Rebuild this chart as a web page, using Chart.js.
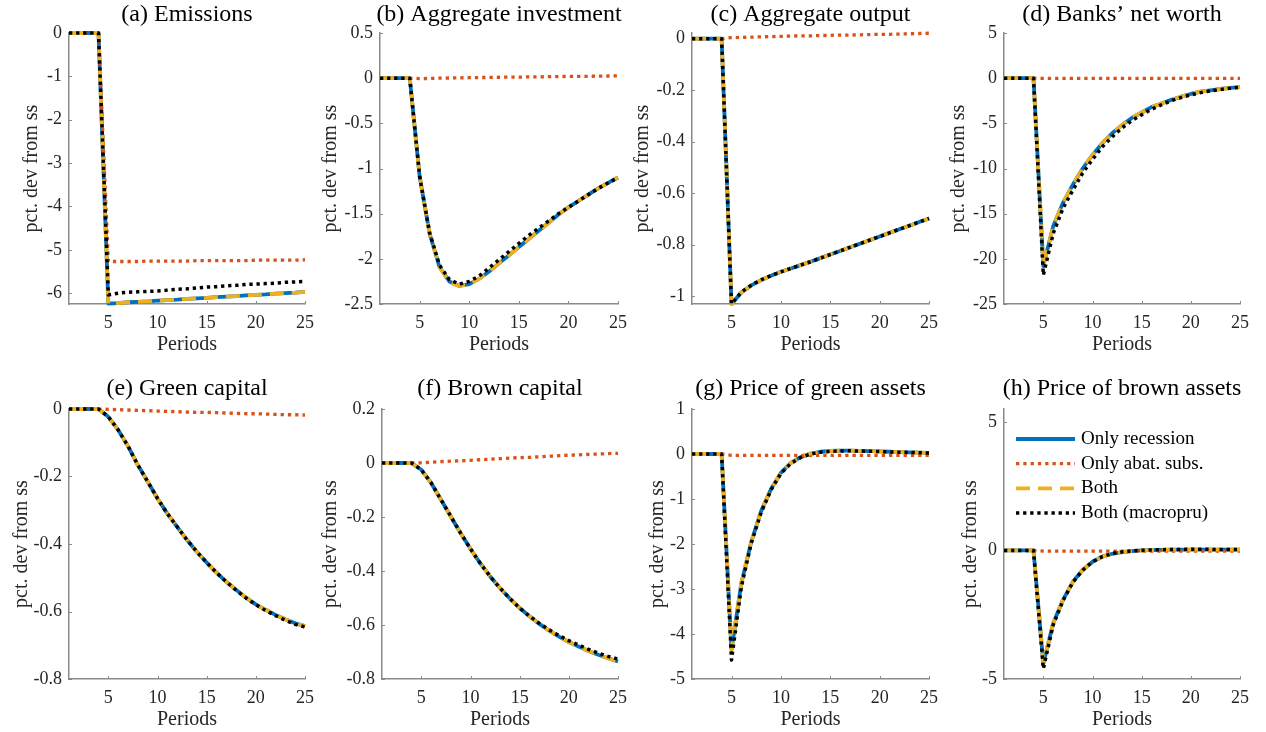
<!DOCTYPE html>
<html>
<head>
<meta charset="utf-8">
<script src="https://cdn.jsdelivr.net/npm/chart.js@4/dist/chart.umd.min.js"></script>
<style>
  body { margin: 0; background: #fff; width: 1266px; height: 732px; overflow: hidden; position: relative; }
  canvas { position: absolute; }
</style>
</head>
<body>
<script>
// ---- data: impulse responses, pct. dev from steady state, periods 1..25 ----
var periods = [1,2,3,4,5,6,7,8,9,10,11,12,13,14,15,16,17,18,19,20,21,22,23,24,25];
var xTicks = [5, 10, 15, 20, 25];
var seriesNames = ['Only recession', 'Only abat. subs.', 'Both', 'Both (macropru)'];

// (a) Emissions
var emisRec   = [0,0,0,0,-6.24,-6.23,-6.21,-6.2,-6.19,-6.17,-6.16,-6.15,-6.13,-6.12,-6.11,-6.09,-6.08,-6.07,-6.05,-6.04,-6.03,-6.01,-6.0,-5.99,-5.97];
var emisSub   = [0,0,0,0,-5.27,-5.27,-5.27,-5.27,-5.26,-5.26,-5.26,-5.26,-5.26,-5.25,-5.25,-5.25,-5.25,-5.25,-5.25,-5.24,-5.24,-5.24,-5.24,-5.24,-5.23];
var emisBoth  = [0,0,0,0,-6.24,-6.23,-6.21,-6.2,-6.19,-6.17,-6.16,-6.15,-6.13,-6.12,-6.11,-6.09,-6.08,-6.07,-6.05,-6.04,-6.03,-6.01,-6.0,-5.99,-5.97];
var emisMacro = [0,0,0,0,-6.04,-6.0,-5.98,-5.97,-5.96,-5.95,-5.93,-5.91,-5.9,-5.88,-5.86,-5.85,-5.83,-5.82,-5.8,-5.79,-5.78,-5.77,-5.75,-5.74,-5.73];
var emisTicks = [-6, -5, -4, -3, -2, -1, 0];

// (b) Aggregate investment
var invRec   = [0,0,0,0,-1.09,-1.72,-2.09,-2.25,-2.3,-2.28,-2.22,-2.14,-2.05,-1.96,-1.87,-1.78,-1.69,-1.6,-1.51,-1.43,-1.36,-1.29,-1.22,-1.16,-1.1];
var invSub   = [0,0,0,0,-0.005,-0.003,0,0.002,0.004,0.005,0.007,0.008,0.01,0.011,0.012,0.014,0.015,0.016,0.018,0.019,0.02,0.021,0.022,0.024,0.025];
var invBoth  = [0,0,0,0,-1.09,-1.72,-2.09,-2.26,-2.3,-2.28,-2.22,-2.14,-2.05,-1.96,-1.87,-1.78,-1.69,-1.6,-1.51,-1.43,-1.36,-1.29,-1.22,-1.16,-1.1];
var invMacro = [0,0,0,0,-1.09,-1.71,-2.07,-2.23,-2.28,-2.25,-2.19,-2.1,-2.01,-1.92,-1.83,-1.74,-1.66,-1.58,-1.5,-1.43,-1.36,-1.29,-1.22,-1.16,-1.1];
var invTicks = [-2.5, -2, -1.5, -1, -0.5, 0, 0.5];

// (c) Aggregate output
var outRec   = [0,0,0,0,-1.03,-0.985,-0.958,-0.937,-0.92,-0.905,-0.892,-0.879,-0.866,-0.852,-0.838,-0.824,-0.81,-0.796,-0.782,-0.768,-0.754,-0.74,-0.726,-0.712,-0.698];
var outSub   = [0,0,0,0,0.004,0.005,0.006,0.007,0.008,0.009,0.01,0.011,0.011,0.012,0.013,0.014,0.014,0.015,0.016,0.017,0.017,0.018,0.019,0.02,0.021];
var outBoth  = [0,0,0,0,-1.03,-0.985,-0.958,-0.937,-0.92,-0.905,-0.892,-0.879,-0.866,-0.852,-0.838,-0.824,-0.81,-0.796,-0.782,-0.768,-0.754,-0.74,-0.726,-0.712,-0.698];
var outMacro = [0,0,0,0,-1.03,-0.984,-0.957,-0.936,-0.92,-0.905,-0.892,-0.879,-0.866,-0.852,-0.838,-0.824,-0.81,-0.796,-0.782,-0.768,-0.754,-0.74,-0.726,-0.712,-0.698];
var outTicks = [-1, -0.8, -0.6, -0.4, -0.2, 0];

// (d) Banks' net worth
var nwRec   = [0,0,0,0,-20.8,-16.4,-13.8,-11.8,-10.0,-8.5,-7.2,-6.1,-5.2,-4.4,-3.8,-3.2,-2.8,-2.4,-2.05,-1.75,-1.5,-1.35,-1.2,-1.08,-1.0];
var nwSub   = [0,0,0,0,-0.02,-0.02,-0.02,-0.02,-0.02,-0.02,-0.02,-0.02,-0.02,-0.02,-0.02,-0.02,-0.02,-0.02,-0.02,-0.02,-0.02,-0.02,-0.02,-0.02,-0.02];
var nwBoth  = [0,0,0,0,-20.8,-16.4,-13.8,-11.8,-10.0,-8.5,-7.2,-6.1,-5.2,-4.4,-3.8,-3.2,-2.8,-2.4,-2.05,-1.75,-1.5,-1.35,-1.2,-1.08,-1.0];
var nwMacro = [0,0,0,0,-21.8,-17.2,-14.4,-12.4,-10.5,-9.0,-7.6,-6.5,-5.5,-4.7,-4.05,-3.45,-2.95,-2.5,-2.15,-1.85,-1.6,-1.4,-1.25,-1.12,-1.02];
var nwTicks = [-25, -20, -15, -10, -5, 0, 5];

// (e) Green capital
var gkRec   = [0,0,0,0,-0.023,-0.062,-0.11,-0.166,-0.215,-0.265,-0.31,-0.349,-0.388,-0.423,-0.455,-0.485,-0.512,-0.536,-0.559,-0.579,-0.595,-0.61,-0.623,-0.635,-0.643];
var gkSub   = [0,0,0,0,-0.001,-0.002,-0.003,-0.004,-0.005,-0.006,-0.007,-0.008,-0.009,-0.01,-0.01,-0.011,-0.012,-0.013,-0.014,-0.014,-0.015,-0.016,-0.017,-0.017,-0.018];
var gkBoth  = [0,0,0,0,-0.023,-0.062,-0.11,-0.166,-0.215,-0.265,-0.31,-0.349,-0.388,-0.423,-0.455,-0.485,-0.512,-0.536,-0.559,-0.579,-0.595,-0.61,-0.623,-0.635,-0.643];
var gkMacro = [0,0,0,0,-0.023,-0.062,-0.11,-0.166,-0.215,-0.265,-0.31,-0.349,-0.388,-0.423,-0.455,-0.485,-0.512,-0.537,-0.56,-0.58,-0.597,-0.612,-0.626,-0.638,-0.646];
var gkTicks = [-0.8, -0.6, -0.4, -0.2, 0];

// (f) Brown capital
var bkRec   = [0,0,0,0,-0.025,-0.074,-0.136,-0.198,-0.26,-0.318,-0.372,-0.42,-0.463,-0.502,-0.537,-0.568,-0.596,-0.621,-0.643,-0.663,-0.68,-0.696,-0.71,-0.723,-0.735];
var bkSub   = [0,0,0,0,0.001,0.003,0.005,0.007,0.008,0.01,0.012,0.014,0.016,0.018,0.02,0.021,0.023,0.025,0.027,0.029,0.03,0.032,0.033,0.035,0.036];
var bkBoth  = [0,0,0,0,-0.025,-0.074,-0.136,-0.198,-0.26,-0.318,-0.372,-0.42,-0.463,-0.502,-0.537,-0.568,-0.596,-0.621,-0.643,-0.663,-0.68,-0.696,-0.71,-0.723,-0.735];
var bkMacro = [0,0,0,0,-0.025,-0.074,-0.136,-0.198,-0.26,-0.318,-0.372,-0.42,-0.463,-0.502,-0.537,-0.567,-0.594,-0.618,-0.639,-0.658,-0.674,-0.69,-0.704,-0.716,-0.726];
var bkTicks = [-0.8, -0.6, -0.4, -0.2, 0, 0.2];

// (g) Price of green assets
var pgRec   = [0,0,0,0,-4.35,-2.87,-1.95,-1.27,-0.78,-0.42,-0.2,-0.07,0.01,0.05,0.067,0.074,0.074,0.07,0.064,0.057,0.05,0.043,0.036,0.03,0.024];
var pgSub   = [0,0,0,0,-0.03,-0.03,-0.03,-0.03,-0.03,-0.03,-0.03,-0.03,-0.03,-0.03,-0.03,-0.03,-0.03,-0.03,-0.03,-0.03,-0.03,-0.03,-0.03,-0.03,-0.03];
var pgBoth  = [0,0,0,0,-4.35,-2.87,-1.95,-1.27,-0.78,-0.42,-0.2,-0.07,0.01,0.05,0.067,0.074,0.074,0.07,0.064,0.057,0.05,0.043,0.036,0.03,0.024];
var pgMacro = [0,0,0,0,-4.58,-2.95,-1.98,-1.3,-0.8,-0.43,-0.21,-0.08,0.0,0.04,0.06,0.068,0.07,0.066,0.06,0.054,0.047,0.04,0.034,0.028,0.022];
var pgTicks = [-5, -4, -3, -2, -1, 0, 1];

// (h) Price of brown assets
var pbRec   = [0,0,0,0,-4.4,-2.83,-1.92,-1.22,-0.76,-0.44,-0.24,-0.13,-0.065,-0.026,0,0.015,0.025,0.03,0.033,0.035,0.035,0.034,0.033,0.032,0.03];
var pbSub   = [0,0,0,0,-0.03,-0.03,-0.03,-0.03,-0.03,-0.03,-0.03,-0.03,-0.03,-0.03,-0.03,-0.03,-0.03,-0.03,-0.03,-0.03,-0.03,-0.03,-0.03,-0.03,-0.03];
var pbBoth  = [0,0,0,0,-4.4,-2.83,-1.92,-1.22,-0.76,-0.44,-0.24,-0.13,-0.065,-0.026,0,0.015,0.025,0.03,0.033,0.035,0.035,0.034,0.033,0.032,0.03];
var pbMacro = [0,0,0,0,-4.6,-2.9,-1.95,-1.24,-0.77,-0.44,-0.24,-0.12,-0.06,-0.02,0.005,0.02,0.03,0.037,0.04,0.042,0.042,0.041,0.04,0.039,0.038];
var pbTicks = [-5, 0, 5];

// ---- styles (MATLAB default line colours) ----
var seriesColors = ['#0072BD', '#D95319', '#EDB120', '#000000'];
var seriesDash   = [[], [3.3, 4], [14, 8], [3.3, 3.8]];
var seriesWidth  = [3.8, 3.3, 3.8, 3.5];
var seriesOrder  = [4, 3, 2, 1];   // black dotted ends up on top

var FONT = '"Liberation Serif", "Times New Roman", serif';
var AXIS = '#8a8a8a';
Chart.defaults.font.family = FONT;
Chart.defaults.color = '#262626';

var TOP = 34, XH = 53, RPAD = 20;

// box = [left, right, top, bottom] of the plot area in page pixels
var panels = [
  { title: '(a) Emissions',             series: [emisRec, emisSub, emisBoth, emisMacro], ticks: emisTicks, yMin: -6.25, yMax: 0,     box: [69, 305, 33, 304],    yTitleX: 32,  titleY: 15 },
  { title: '(b) Aggregate investment',  series: [invRec, invSub, invBoth, invMacro],     ticks: invTicks,  yMin: -2.5,  yMax: 0.5,   box: [380, 618, 33, 304],   yTitleX: 331, titleY: 15 },
  { title: '(c) Aggregate output',      series: [outRec, outSub, outBoth, outMacro],     ticks: outTicks,  yMin: -1.03, yMax: 0.022, box: [692, 929, 33, 304],   yTitleX: 643, titleY: 15 },
  { title: '(d) Banks\u2019 net worth', series: [nwRec, nwSub, nwBoth, nwMacro],         ticks: nwTicks,   yMin: -25,   yMax: 5,     box: [1004, 1240, 33, 304], yTitleX: 959, titleY: 15 },
  { title: '(e) Green capital',         series: [gkRec, gkSub, gkBoth, gkMacro],         ticks: gkTicks,   yMin: -0.8,  yMax: 0,     box: [69, 305, 409, 679],   yTitleX: 22,  titleY: 389 },
  { title: '(f) Brown capital',         series: [bkRec, bkSub, bkBoth, bkMacro],         ticks: bkTicks,   yMin: -0.8,  yMax: 0.2,   box: [382, 618, 409, 679],  yTitleX: 331, titleY: 389 },
  { title: '(g) Price of green assets', series: [pgRec, pgSub, pgBoth, pgMacro],         ticks: pgTicks,   yMin: -5,    yMax: 1,     box: [692, 929, 409, 679],  yTitleX: 658, titleY: 389 },
  { title: '(h) Price of brown assets', series: [pbRec, pbSub, pbBoth, pbMacro],         ticks: pbTicks,   yMin: -5,    yMax: 5.5,   box: [1004, 1240, 409, 679], yTitleX: 971, titleY: 389, legend: true }
];

// panel title centred over the axes, like MATLAB's title()
var panelTitle = {
  id: 'panelTitle',
  afterDraw: function(chart, args, opts) {
    var a = chart.chartArea, ctx = chart.ctx;
    ctx.save();
    ctx.font = '24px ' + FONT;
    ctx.fillStyle = '#000';
    ctx.textAlign = 'center';
    ctx.textBaseline = 'middle';
    ctx.fillText(opts.text, (a.left + a.right) / 2, a.top - opts.dy);
    ctx.restore();
  }
};

// short inward tick marks on both axes
var inTicks = {
  id: 'inTicks',
  beforeDatasetsDraw: function(chart) {
    var a = chart.chartArea, ctx = chart.ctx, xs = chart.scales.x, ys = chart.scales.y;
    ctx.save();
    ctx.strokeStyle = AXIS;
    ctx.lineWidth = 1;
    ctx.beginPath();
    xs.ticks.forEach(function(t) {
      var x = Math.round(xs.getPixelForValue(t.value)) + 0.5;
      ctx.moveTo(x, a.bottom); ctx.lineTo(x, a.bottom - 3);
    });
    ys.ticks.forEach(function(t) {
      var y = Math.round(ys.getPixelForValue(t.value)) + 0.5;
      ctx.moveTo(a.left, y); ctx.lineTo(a.left + 3, y);
    });
    ctx.stroke();
    ctx.restore();
  }
};

// boxless legend in the upper-left corner of the axes
var cornerLegend = {
  id: 'cornerLegend',
  afterDatasetsDraw: function(chart, args, opts) {
    if (!opts.show) return;
    var a = chart.chartArea, ctx = chart.ctx;
    ctx.save();
    chart.data.datasets.forEach(function(ds, i) {
      var y = a.top + 30 + i * 24.7;
      ctx.beginPath();
      ctx.strokeStyle = ds.borderColor;
      ctx.lineWidth = ds.borderWidth;
      ctx.setLineDash(ds.borderDash);
      ctx.moveTo(a.left + 12, y);
      ctx.lineTo(a.left + 71, y);
      ctx.stroke();
      ctx.setLineDash([]);
      ctx.font = '19px ' + FONT;
      ctx.fillStyle = '#000';
      ctx.textAlign = 'left';
      ctx.textBaseline = 'middle';
      ctx.fillText(ds.label, a.left + 77, y);
    });
    ctx.restore();
  }
};

panels.forEach(function(p) {
  var L = p.box[0], R = p.box[1], T = p.box[2], B = p.box[3];
  var yw = L - p.yTitleX + 12;
  var cv = document.createElement('canvas');
  cv.width = yw + (R - L) + RPAD;
  cv.height = TOP + (B - T) + XH;
  cv.style.left = (L - yw) + 'px';
  cv.style.top = (T - TOP) + 'px';
  document.body.appendChild(cv);

  var datasets = p.series.map(function(vals, k) {
    return {
      label: seriesNames[k],
      data: periods.map(function(t, i) { return { x: t, y: vals[i] }; }),
      borderColor: seriesColors[k],
      borderWidth: seriesWidth[k],
      borderDash: seriesDash[k],
      borderJoinStyle: 'round',
      pointRadius: 0,
      tension: 0,
      fill: false,
      clip: false,
      order: seriesOrder[k]
    };
  });

  new Chart(cv, {
    type: 'line',
    data: { datasets: datasets },
    plugins: [inTicks, panelTitle, cornerLegend],
    options: {
      responsive: false,
      animation: false,
      events: [],
      layout: { padding: { top: TOP, right: RPAD, left: 0, bottom: 0 } },
      plugins: {
        legend: { display: false },
        tooltip: { enabled: false },
        panelTitle: { text: p.title, dy: T - p.titleY },
        cornerLegend: { show: !!p.legend }
      },
      scales: {
        x: {
          type: 'linear', min: 1, max: 25,
          afterBuildTicks: function(s) { s.ticks = xTicks.map(function(v) { return { value: v }; }); },
          afterFit: function(s) { s.height = XH; },
          grid: { drawOnChartArea: false, drawTicks: false },
          border: { color: AXIS, width: 1.5 },
          ticks: { font: { size: 18 }, padding: 8, maxRotation: 0, autoSkip: false },
          title: { display: true, text: 'Periods', font: { size: 20 }, padding: 0 }
        },
        y: {
          type: 'linear', min: p.yMin, max: p.yMax,
          afterBuildTicks: function(s) { s.ticks = p.ticks.map(function(v) { return { value: v }; }); },
          afterFit: function(s) { s.width = yw; },
          grid: { drawOnChartArea: false, drawTicks: false },
          border: { color: AXIS, width: 1.5 },
          ticks: { font: { size: 18 }, padding: 7, autoSkip: false, callback: function(v) { return String(v); } },
          title: { display: true, text: 'pct. dev from ss', font: { size: 20 }, padding: 0 }
        }
      }
    }
  });
});
</script>
</body>
</html>
